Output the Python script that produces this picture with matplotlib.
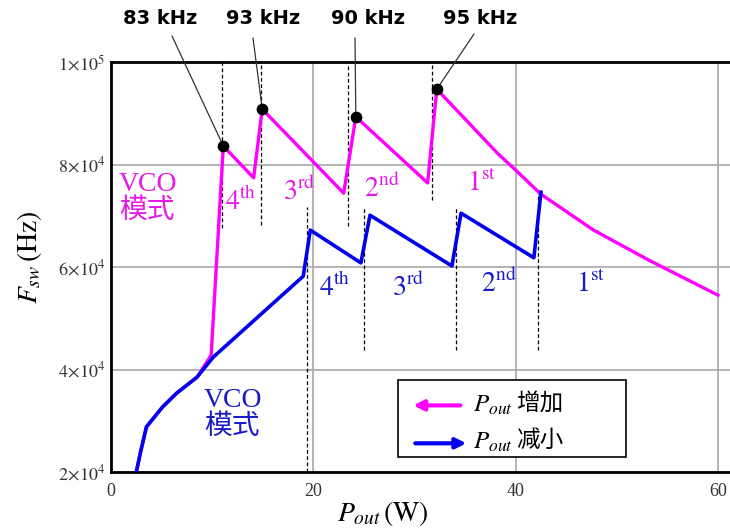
import matplotlib
matplotlib.use("Agg")
import matplotlib.pyplot as plt
from matplotlib.patches import Rectangle

plt.rcParams['mathtext.fontset'] = 'stix'
plt.rcParams['font.family'] = ['Liberation Serif', 'Noto Sans CJK SC']

# Pout increasing (magenta) path, (W, Hz)
inc_p = [2.5, 2.9, 3.5, 5.1, 6.5, 8.5, 9.9, 11.1, 14.1, 14.95, 23.0, 24.2, 31.3, 32.2,
         38.2, 40.0, 42.5, 47.7, 53.1, 60.0]
inc_f = [20000, 23700, 28800, 32700, 35400, 38500, 42800, 83600, 77400, 90800, 74400, 89300,
         76400, 94700, 82200, 78900, 74200, 67200, 61400, 54500]

# Pout decreasing (blue) path
dec_p = [2.5, 2.9, 3.5, 5.1, 6.5, 8.5, 10.1, 19.0, 19.7, 24.7, 25.6, 33.7, 34.6, 41.8, 42.5]
dec_f = [20000, 23700, 28800, 32700, 35400, 38500, 42400, 58200, 67200, 60800, 70100,
         60200, 70500, 61800, 74600]

# peak markers and their labels
peak_p = [11.1, 14.95, 24.2, 32.2]
peak_f = [83600, 90800, 89300, 94700]
peak_labels = ['83 kHz', '93 kHz', '90 kHz', '95 kHz']

# dashed boundaries (x, ymin, ymax)
inc_edges = [(11.0, 67600, 100000), (14.85, 68200, 100000), (23.4, 68000, 100000),
             (31.7, 73100, 100000)]
dec_edges = [(19.4, 20000, 71700), (25.0, 43800, 71700), (34.1, 43800, 71700),
             (42.2, 43800, 74400)]

stage_names = ['4', '3', '2', '1']
stage_sup = ['th', 'rd', 'nd', 'st']
inc_stage_pos = [(11.3, 72800), (17.0, 74600), (25.0, 75300), (35.2, 76200)]
dec_stage_pos = [(20.6, 56000), (27.8, 56000), (36.6, 56800), (46.0, 56600)]

pink = '#ff00ff'
pink_txt = '#e619e6'
blue = '#0000ee'
blue_txt = '#1a1ac8'

fig = plt.figure(figsize=(7.3, 5.31), dpi=100)
ax = fig.add_axes([111 / 730, 1 - 472 / 531, 1 - 111 / 730, 410 / 531])

ax.set_xlim(0, 60 * 619 / 607)
ax.set_ylim(20000, 100000)
ax.set_xticks([0, 20, 40, 60])
ax.set_yticks([20000, 40000, 60000, 80000, 100000])
ax.set_yticklabels([r'$2\!\times\!10^{4}$', r'$4\!\times\!10^{4}$', r'$6\!\times\!10^{4}$',
                    r'$8\!\times\!10^{4}$', r'$1\!\times\!10^{5}$'])
ax.tick_params(length=0, labelsize=13, colors='#333333', pad=4)
ax.tick_params(axis='x', pad=8)
ax.grid(True, color='#a8a8a8', linewidth=1.2)
ax.set_axisbelow(True)
for s in ['left', 'bottom', 'top']:
    ax.spines[s].set_linewidth(2)
ax.spines['right'].set_visible(False)

for x, y0, y1 in inc_edges + dec_edges:
    ax.plot([x, x], [y0, y1], color='black', linestyle=(0, (3, 2)), linewidth=0.9, zorder=2)

ax.plot(inc_p, inc_f, color=pink, linewidth=2.4, zorder=3)
ax.plot(dec_p, dec_f, color=blue, linewidth=2.6, zorder=4)

ax.scatter(peak_p, peak_f, s=55, color='black', zorder=6)
label_pos = [(160, 18), (263, 18), (368, 18), (480, 18)]
line_start = [(172, 36), (253, 38), (355, 38), (474, 34)]
for (px, pf), lab, (lx, ly), (sx, sy) in zip(zip(peak_p, peak_f), peak_labels, label_pos, line_start):
    ax.annotate('', xy=(px, pf), xytext=(sx, 531 - sy), textcoords='figure pixels',
                arrowprops=dict(arrowstyle='-', color='#333333', lw=0.9, shrinkA=0, shrinkB=0))
    fig.text(lx / 730, 1 - ly / 531, lab, ha='center', va='center', fontsize=14,
             fontweight='bold', family='DejaVu Sans')

for (x, y), n, sup in zip(inc_stage_pos, stage_names, stage_sup):
    ax.text(x, y, r'$\mathrm{%s^{%s}}$' % (n, sup), color=pink_txt, fontsize=20, ha='left', va='center')
for (x, y), n, sup in zip(dec_stage_pos, stage_names, stage_sup):
    ax.text(x, y, r'$\mathrm{%s^{%s}}$' % (n, sup), color=blue_txt, fontsize=20, ha='left', va='center')

ax.text(0.8, 73500, 'VCO\n模式', color=pink_txt, fontsize=20, ha='left', va='center', linespacing=1.1)
ax.text(9.2, 31300, 'VCO\n模式', color=blue_txt, fontsize=20, ha='left', va='center', linespacing=1.1)

# legend box
ax.add_patch(Rectangle((28.4, 23000), 22.5, 15000, transform=ax.transData, fill=True,
                       facecolor='white', edgecolor='black', linewidth=1.2, zorder=7))
ax.annotate('', xy=(29.6, 33000), xytext=(34.8, 33000),
            arrowprops=dict(arrowstyle='-|>,head_length=0.6,head_width=0.3', color=pink, lw=3),
            zorder=8)
ax.annotate('', xy=(35.4, 25600), xytext=(29.8, 25600),
            arrowprops=dict(arrowstyle='-|>,head_length=0.6,head_width=0.3', color=blue, lw=3),
            zorder=8)
ax.text(35.8, 33000, r'$P_{out}$', fontsize=18, ha='left', va='center', zorder=9)
ax.text(40.0, 33300, '增加', fontsize=17, ha='left', va='center', zorder=9, family='Noto Sans CJK SC')
ax.text(35.8, 25800, r'$P_{out}$', fontsize=18, ha='left', va='center', zorder=9)
ax.text(40.0, 26100, '减小', fontsize=17, ha='left', va='center', zorder=9, family='Noto Sans CJK SC')

fig.text(383 / 730, 1 - 514 / 531, r'$P_{out}\,\mathrm{(W)}$', ha='center', va='center', fontsize=20)
fig.text(29 / 730, 1 - 257 / 531, r'$F_{sw}\,\mathrm{(Hz)}$', ha='center', va='center', fontsize=20,
         rotation=90)

fig.savefig('out.png', dpi=100, facecolor='white')
